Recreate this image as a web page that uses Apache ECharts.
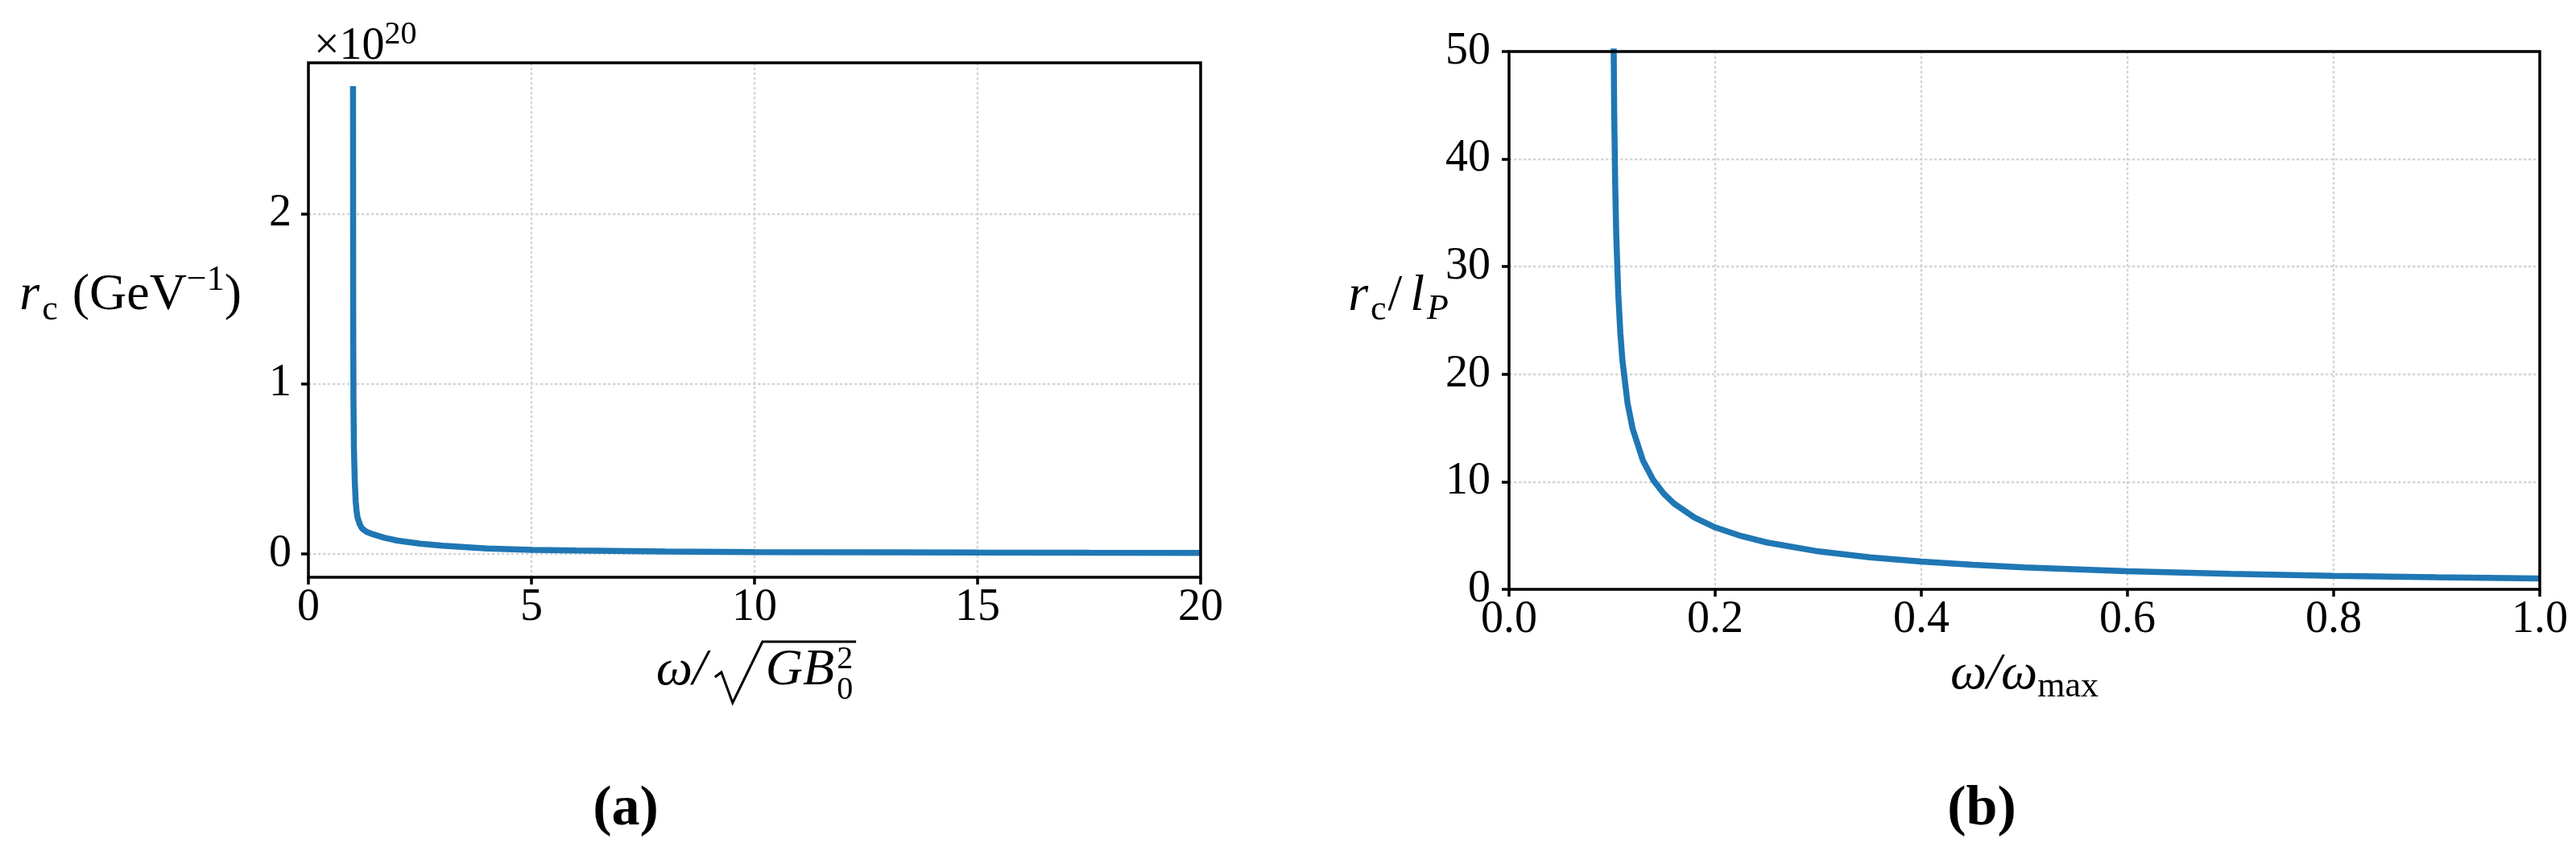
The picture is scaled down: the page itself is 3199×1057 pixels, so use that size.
<!DOCTYPE html>
<html><head><meta charset="utf-8">
<script src="https://cdn.jsdelivr.net/npm/echarts@6/dist/echarts.min.js"></script>
<style>html,body{margin:0;padding:0;background:#fff}#c{width:3199px;height:1057px}</style>
</head><body><div id="c"></div><script>
// ---- Panel (a): r_c (x 1e20 GeV^-1) vs omega / sqrt(G B0^2)
const omegaA = [1.0, 1.002, 1.005, 1.01, 1.02, 1.04, 1.06, 1.08, 1.1, 1.15, 1.2, 1.3, 1.45, 1.7, 2.0, 2.5, 3, 4, 5, 6, 8, 10, 12.5, 15, 17.5, 20];
const rcA    = [2.75, 2.0, 1.3, 0.9, 0.62, 0.42, 0.31, 0.25, 0.215, 0.175, 0.15, 0.13, 0.115, 0.095, 0.078, 0.06, 0.048, 0.032, 0.024, 0.02, 0.014, 0.011, 0.009, 0.0075, 0.0065, 0.006];
const xTicksA = [0, 5, 10, 15, 20];
const yTicksA = [0, 1, 2];
// ---- Panel (b): r_c / l_P vs omega / omega_max
const omegaB = [0.1005, 0.1012, 0.102, 0.103, 0.104, 0.106, 0.108, 0.11, 0.115, 0.12, 0.13, 0.14, 0.15, 0.16, 0.18, 0.2, 0.225, 0.25, 0.3, 0.35, 0.4, 0.45, 0.5, 0.6, 0.7, 0.8, 0.9, 1.0];
const rcB    = [70.7, 54.1, 44.5, 37.6, 33.0, 27.4, 23.8, 21.3, 17.3, 14.9, 11.95, 10.15, 8.91, 7.98, 6.67, 5.76, 4.96, 4.36, 3.53, 2.98, 2.58, 2.28, 2.04, 1.69, 1.44, 1.26, 1.12, 1.005];
const xTicksB = [0, 0.2, 0.4, 0.6, 0.8, 1.0];
const yTicksB = [0, 10, 20, 30, 40, 50];

const FF = '"Liberation Serif"';
const LINE = '#1f77b4';
const ctx = document.createElement('canvas').getContext('2d');
function fnt(size, it, bold) { return (bold ? 'bold ' : '') + (it ? 'italic ' : '') + size + 'px ' + FF; }
function wt(t, size, it, bold) { ctx.font = fnt(size, it, bold); return ctx.measureText(t).width; }
const MID = 0.3375; // baseline offset from em-middle
function txt(t, x, base, size, it, bold, align) {
  return { type: 'text', x: x, y: base - MID * size, z: 100,
    style: { text: t, font: fnt(size, it, bold), fill: '#000',
      textAlign: align || 'left', align: align || 'left', textVerticalAlign: 'middle', verticalAlign: 'middle' } };
}
function seq(parts, x, base, align) {
  const ws = parts.map(p => wt(p.t, p.size, p.it, p.bold) + (p.kern || 0));
  const total = ws.reduce((a, b) => a + b, 0);
  let cx = align === 'right' ? x - total : align === 'center' ? x - total / 2 : x;
  const out = [];
  parts.forEach((p, i) => { out.push(txt(p.t, cx, base + (p.dy || 0), p.size, p.it, p.bold)); cx += ws[i]; });
  return out;
}
const T = 64, S = 44;
const graphics = [];
// y title (a)
graphics.push(...seq([
  { t: 'r', size: T, it: true, kern: 3 }, { t: 'c', size: S, dy: 11, kern: 2 },
  { t: ' (GeV', size: T }, { t: '\u22121', size: S, dy: -26 }, { t: ')', size: T }
], 300, 389, 'right'));
// y title (b)
graphics.push(...seq([
  { t: 'r', size: T, it: true, kern: 3 }, { t: 'c', size: S, dy: 10, kern: 2 },
  { t: '/', size: T, kern: 10 }, { t: 'l', size: T, it: true, kern: 3 }, { t: 'P', size: S, it: true, dy: 9 }
], 1799, 390, 'right'));
// x title (b)
graphics.push(...seq([
  { t: '\u03c9/\u03c9', size: T, it: true }, { t: 'max', size: S, dy: 8 }
], 2514, 860, 'center'));
// x title (a) with radical
(function () {
  const base = 855, S2 = 40;
  const wOm = wt('\u03c9/', T, true);
  const radGap = 14, radW = 55;
  const wGB = wt('GB', T, true);
  const wSc = Math.max(wt('2', S2), wt('0', S2));
  const total = wOm + radGap + radW + 4 + wGB + 3 + wSc;
  const sx = 937 - total / 2;
  graphics.push(txt('\u03c9/', sx, base, T, true));
  const x0 = sx + wOm + radGap;
  const xe = x0 + radW + 4 + wGB + 3 + wSc + 4;
  graphics.push({ type: 'polyline', z: 100, shape: { points: [[x0 - 4, base - 14], [x0 + 4, base - 20], [x0 + 18, base + 18], [x0 + radW, base - 58], [xe, base - 58]] },
    style: { stroke: '#000', lineWidth: 3, fill: null } });
  graphics.push(txt('GB', x0 + radW + 4, base, T, true));
  graphics.push(txt('2', x0 + radW + 4 + wGB + 3, base - 22, S2));
  graphics.push(txt('0', x0 + radW + 4 + wGB + 3, base + 16, S2));
})();
// offset text x10^20
graphics.push(...seq([{ t: '\u00d710', size: 56 }, { t: '20', size: 40, dy: -20 }], 390, 77, 'left'));
// panel labels
graphics.push(txt('(a)', 777, 1030, 70, false, true, 'center'));
graphics.push(txt('(b)', 2461, 1030, 70, false, true, 'center'));

const labelFont = { fontFamily: FF, fontSize: 56, color: '#000' };
const split = { show: true, lineStyle: { color: '#d4d4d4', width: 2.4, type: [3.3, 2.7] } };
function tick(vals) { return { show: true, inside: false, length: 9, lineStyle: { color: '#000', width: 3.5 }, customValues: vals }; }
function xAx(grid, min, max, vals, fmt) {
  return { type: 'value', gridIndex: grid, min: min, max: max,
    axisLine: { show: false, onZero: false }, axisTick: tick(vals),
    axisLabel: Object.assign({ customValues: vals, margin: 10, formatter: fmt }, labelFont),
    splitLine: split };
}
function yAx(grid, min, max, vals, margin) {
  return { type: 'value', gridIndex: grid, min: min, max: max,
    axisLine: { show: false, onZero: false }, axisTick: tick(vals),
    axisLabel: Object.assign({ customValues: vals, margin: margin }, labelFont),
    splitLine: split };
}
const chart = echarts.init(document.getElementById('c'), null, { renderer: 'canvas' });
chart.setOption({
  animation: false,
  backgroundColor: '#fff',
  grid: [
    { left: 383, top: 78, width: 1108, height: 639, show: true, borderColor: '#000', borderWidth: 3.5, backgroundColor: 'transparent', z: 5 },
    { left: 1874, top: 64, width: 1280, height: 668, show: true, borderColor: '#000', borderWidth: 3.5, backgroundColor: 'transparent', z: 5 }
  ],
  xAxis: [
    xAx(0, 0, 20, xTicksA, v => String(v)),
    xAx(1, 0, 1, xTicksB, v => Number(v).toFixed(1))
  ],
  yAxis: [
    yAx(0, -0.1375, 2.8875, yTicksA, 21),
    yAx(1, 0, 50, yTicksB, 23)
  ],
  series: [
    { type: 'line', xAxisIndex: 0, yAxisIndex: 0, data: omegaA.map((x, i) => [x, rcA[i]]),
      symbol: 'none', showSymbol: false, clip: true, z: 2, lineStyle: { color: LINE, width: 7.5 } },
    { type: 'line', xAxisIndex: 1, yAxisIndex: 1, data: omegaB.map((x, i) => [x, rcB[i]]),
      symbol: 'none', showSymbol: false, clip: true, z: 2, lineStyle: { color: LINE, width: 7.5 } }
  ],
  graphic: { elements: graphics }
});
</script></body></html>
